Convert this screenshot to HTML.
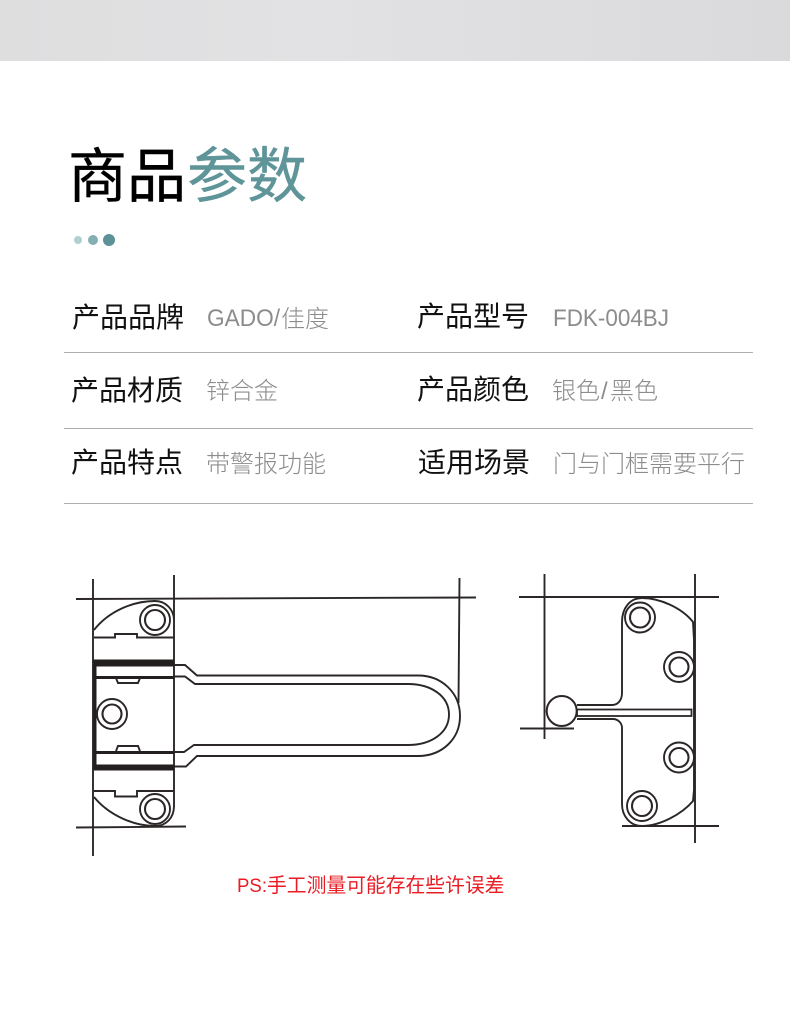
<!DOCTYPE html>
<html lang="zh">
<head>
<meta charset="utf-8">
<style>
html,body{margin:0;padding:0;background:#fff;}
body{width:790px;height:1019px;overflow:hidden;position:relative;}
svg{position:absolute;left:0;top:0;display:block;}
text{font-family:"Liberation Sans","Noto Sans CJK SC",sans-serif;}
.l{font-size:28px;fill:#111;}
.v{font-size:24px;fill:#8c8c8c;font-weight:300;}
.d{fill:none;stroke:#2b2727;stroke-width:1.9;}
.t{fill:none;stroke:#2b2727;stroke-width:2.1;}
</style>
</head>
<body>
<svg width="790" height="1019" viewBox="0 0 790 1019" xmlns="http://www.w3.org/2000/svg">
<defs>
<linearGradient id="g" x1="0" x2="1" y1="0" y2="0">
<stop offset="0" stop-color="#dededf"/>
<stop offset="0.4" stop-color="#e2e2e4"/>
<stop offset="1" stop-color="#dadadc"/>
</linearGradient>
</defs>
<rect x="0" y="0" width="790" height="61" fill="url(#g)"/>

<text x="68" y="197" font-size="59" fill="#000" stroke="#000" stroke-width="0.4">商品</text>
<text x="187" y="197" font-size="60" fill="#5f9599" stroke="#5f9599" stroke-width="0.4">参数</text>
<circle cx="78" cy="240" r="4" fill="#b0cfcf"/>
<circle cx="93" cy="240" r="5" fill="#85afb2"/>
<circle cx="109" cy="240" r="6" fill="#5c9296"/>

<text class="l" x="72" y="327">产品品牌</text>
<text class="v" x="207" y="326" textLength="73" lengthAdjust="spacingAndGlyphs">GADO/</text>
<text class="v" x="281" y="327">佳度</text>
<text class="l" x="417" y="326">产品型号</text>
<text class="v" x="553" y="326" textLength="116" lengthAdjust="spacingAndGlyphs">FDK-004BJ</text>
<rect x="64" y="352" width="689" height="1" fill="#aeaeae"/>

<text class="l" x="71" y="400">产品材质</text>
<text class="v" x="206" y="399">锌合金</text>
<text class="l" x="417" y="399">产品颜色</text>
<text class="v" x="552" y="399">银色</text>
<text class="v" x="601" y="399">/</text>
<text class="v" x="610" y="399">黑色</text>
<rect x="64" y="428" width="689" height="1" fill="#aeaeae"/>

<text class="l" x="71" y="472">产品特点</text>
<text class="v" x="206" y="472">带警报功能</text>
<text class="l" x="418" y="472">适用场景</text>
<text class="v" x="553" y="472">门与门框需要平行</text>
<rect x="64" y="503" width="689" height="1" fill="#aeaeae"/>

<!-- left drawing -->
<g>
<path class="d" d="M76 599 L476 597.500"/>
<path class="d" d="M76 827.500 L186 826.500"/>
<path class="d" d="M93 579 L93 856"/>
<path class="d" d="M174 575 L174 806"/>
<path class="d" d="M459.500 578 L458.500 703"/>
<path class="d" d="M94 630 C108 612 132 601 155 601 C166 601 174 610 174 620"/>
<path class="d" d="M174 806 C174 818 166 826 155 826 C132 826 108 814 94 797"/>
<path class="d" d="M94 637.500 H115 V634 H137 V637.500 H174"/>
<path class="d" d="M94 791 H115 V796.500 H137 V791 H174"/>
<rect x="94" y="659.500" width="80" height="7" fill="#231f1f"/>
<rect x="94" y="764.500" width="80" height="6" fill="#231f1f"/>
<rect x="94" y="676" width="80" height="3" fill="#231f1f"/>
<rect x="94" y="751" width="80" height="3" fill="#231f1f"/>
<rect x="93.500" y="660" width="3" height="110" fill="#231f1f"/>
<path class="d" d="M116 678 L118 683 H138 L140 678"/>
<path class="d" d="M116 751 L118 746 H138 L140 751"/>
<circle class="d" cx="155" cy="620" r="15"/>
<circle class="t" cx="155" cy="620" r="10"/>
<circle class="d" cx="112" cy="714" r="15"/>
<circle class="t" cx="112" cy="714" r="9.500"/>
<circle class="d" cx="155" cy="809" r="15"/>
<circle class="t" cx="155" cy="809" r="10"/>
<path class="d" d="M174 665 H185 L197 675.500 H418 C442 675.500 460 693 460 716 C460 739 442 756 418 756 H197 L186 766.500 H174"/>
<path class="d" d="M174 676.500 H185 L195 684 H408 C431 684 449 696 449 714.500 C449 733 431 745 408 745 H194 L184 752 H174"/>
</g>

<!-- right drawing -->
<g>
<path class="d" d="M519 597 H719"/>
<path class="d" d="M520 728.500 H574"/>
<path class="d" d="M622 826 H719"/>
<path class="d" d="M544.500 574 V739"/>
<path class="d" d="M695 574 V843"/>
<path class="d" d="M612 705 C618 705 622 700 622 693 V622 C622 608 630 598 642 598 C660 598 682 608 693 622 L694 640 V790 L693 801 C682 814 660 826 642 826 C630 826 622 816 622 804 V728 C622 723 618 719 613 719 H577"/>
<path class="d" d="M577 705 H612"/>
<rect x="577" y="709.500" width="114.500" height="6.500" fill="none" stroke="#2b2727" stroke-width="1.800"/>
<circle cx="561.700" cy="711" r="15" fill="#fff" stroke="#2b2727" stroke-width="2"/>
<circle class="d" cx="640" cy="617.500" r="15"/>
<circle class="t" cx="640" cy="617.500" r="10"/>
<circle class="d" cx="679" cy="667" r="15"/>
<circle class="t" cx="679" cy="667" r="9.500"/>
<circle class="d" cx="679" cy="757.500" r="15"/>
<circle class="t" cx="679" cy="757.500" r="9.500"/>
<circle class="d" cx="642" cy="806" r="15"/>
<circle class="t" cx="642" cy="806" r="10"/>
</g>

<text x="237" y="892" font-size="19.500" fill="#ea1c24" textLength="30" lengthAdjust="spacingAndGlyphs">PS:</text>
<text x="267" y="892" font-size="19.800" fill="#ea1c24">手工测量可能存在些许误差</text>
</svg>
</body>
</html>
